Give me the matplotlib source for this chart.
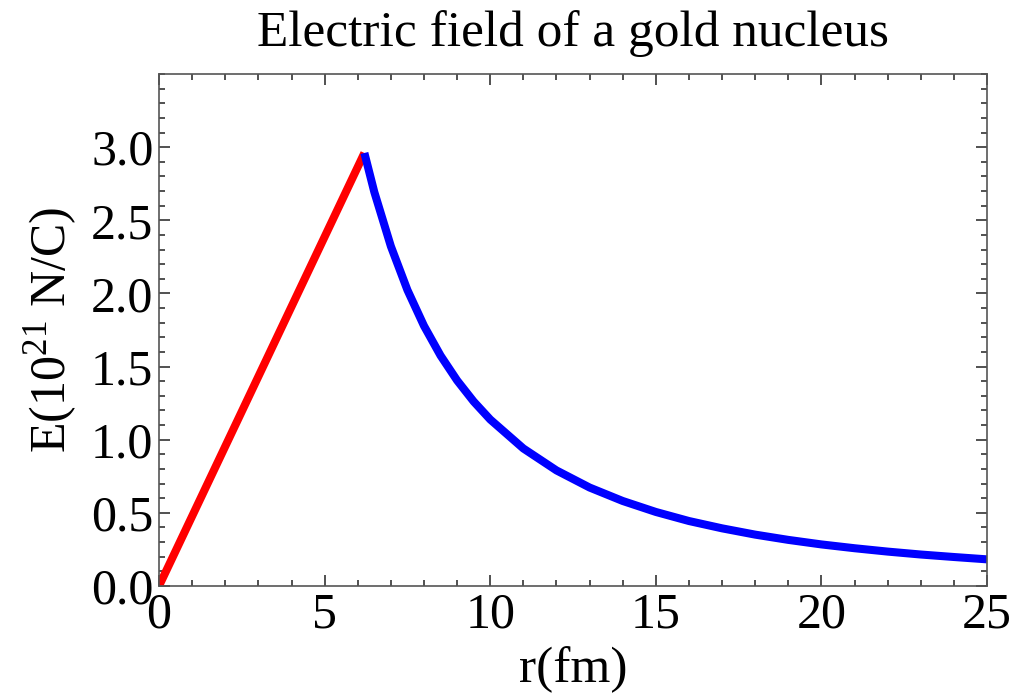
import matplotlib
matplotlib.use("Agg")
import matplotlib.pyplot as plt
from matplotlib.ticker import MultipleLocator

plt.rcParams['font.family'] = ['Liberation Serif', 'DejaVu Serif']
plt.rcParams['mathtext.fontset'] = 'custom'
plt.rcParams['mathtext.rm'] = 'Liberation Serif'

# inside the nucleus (r < R)
r_in = [0.0, 6.2]
E_in = [0.0, 2.96]

# outside the nucleus
r_out = [6.2, 6.5, 7.0, 7.5, 8.0, 8.5, 9.0, 9.5, 10.0, 11.0, 12.0, 13.0, 14.0,
         15.0, 16.0, 17.0, 18.0, 19.0, 20.0, 21.0, 22.0, 23.0, 24.0, 25.0]
E_out = [2.960, 2.693, 2.322, 2.023, 1.778, 1.575, 1.405, 1.261, 1.138, 0.940,
         0.790, 0.673, 0.581, 0.506, 0.444, 0.394, 0.351, 0.315, 0.284, 0.258,
         0.235, 0.215, 0.198, 0.182]

fig = plt.figure(figsize=(10.11, 7.0), dpi=100)
ax = fig.add_axes([0.1573, 0.1629, 0.819, 0.7314])

ax.plot(r_in, E_in, color='#ff0000', lw=5.8, solid_capstyle='butt')
ax.plot(r_out, E_out, color='#0000ff', lw=5.8, solid_capstyle='butt')

ax.set_xlim(0, 25)
ax.set_ylim(0, 3.5)
ax.xaxis.set_major_locator(MultipleLocator(5))
ax.xaxis.set_minor_locator(MultipleLocator(1))
ax.yaxis.set_major_locator(MultipleLocator(0.5))
ax.yaxis.set_minor_locator(MultipleLocator(0.1))
ax.set_yticks([0, 0.5, 1.0, 1.5, 2.0, 2.5, 3.0])
ax.set_yticklabels(['0.0', '0.5', '1.0', '1.5', '2.0', '2.5', '3.0'])

ax.tick_params(which='both', direction='in', top=True, right=True,
               color='#333333', width=1.2, labelsize=36, pad=4)
ax.tick_params(which='major', length=8)
ax.tick_params(which='minor', length=4.5)
for s in ax.spines.values():
    s.set_color('#555555')
    s.set_linewidth(1.2)

ax.set_title('Electric field of a gold nucleus', fontsize=37, pad=20)
ax.set_xlabel('r(fm)', fontsize=37, labelpad=6)
ax.set_ylabel('E(10$^{21}$ N/C)', fontsize=36, labelpad=8)

fig.savefig('out.png', dpi=100)
